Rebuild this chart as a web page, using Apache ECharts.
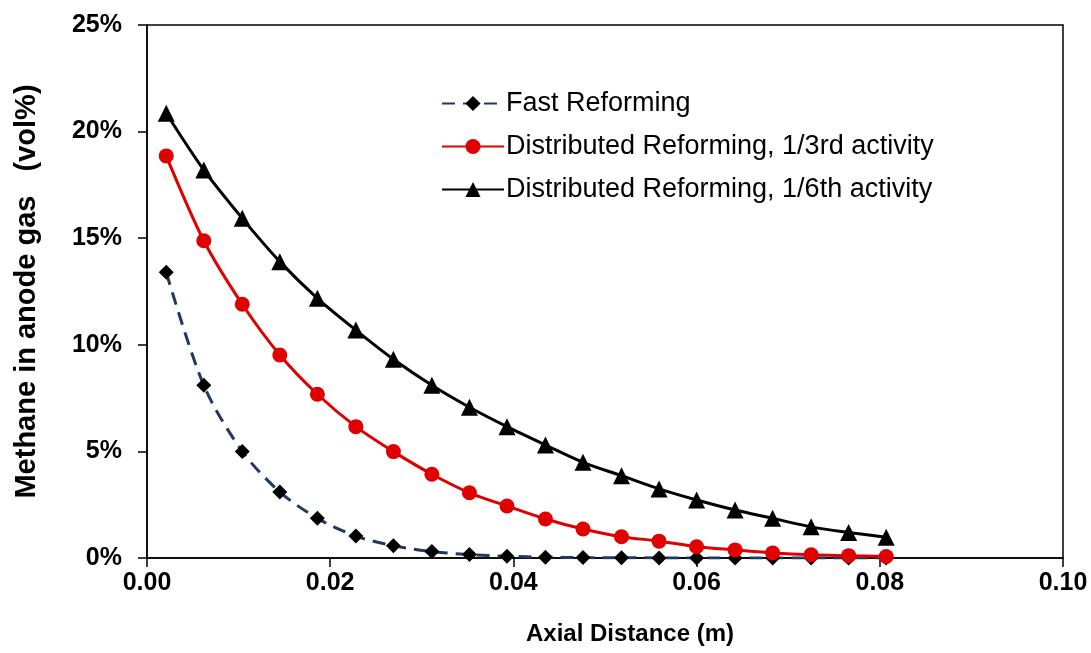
<!DOCTYPE html>
<html><head><meta charset="utf-8">
<script src="https://cdn.jsdelivr.net/npm/echarts@6/dist/echarts.min.js"></script>
<style>html,body{margin:0;padding:0;background:#fff}#c{width:1091px;height:653px}</style>
</head><body><div id="c"></div>
<script>
const axialDistance = [0.0021,0.0062,0.0104,0.0145,0.0186,0.0228,0.0269,0.0311,0.0352,0.0393,0.0435,0.0476,0.0518,0.0559,0.0600,0.0642,0.0683,0.0725,0.0766,0.0807];
const fastReforming = [13.4,8.1,5.0,3.1,1.86,1.03,0.58,0.30,0.16,0.08,0.04,0.02,0.01,0.005,0.003,0.002,0.001,0.001,0.0005,0.0003];
const dist13 = [18.86,14.88,11.9,9.52,7.68,6.16,4.99,3.93,3.06,2.44,1.83,1.36,1.0,0.79,0.53,0.38,0.24,0.15,0.11,0.07];
const dist16 = [20.86,18.2,15.93,13.9,12.18,10.69,9.32,8.1,7.07,6.16,5.3,4.49,3.86,3.24,2.72,2.25,1.86,1.46,1.2,0.97];
const seriesNames = ['Fast Reforming','Distributed Reforming, 1/3rd activity','Distributed Reforming, 1/6th activity'];

const pair = (ys) => axialDistance.map((x,i)=>[x, ys[i]]);
const chart = echarts.init(document.getElementById('c'));
const font = 'Liberation Sans, Arial, sans-serif';
chart.setOption({
  animation:false,
  grid:{left:147,right:28,top:25,bottom:95,show:true,borderColor:'#000',borderWidth:1.5},
  legend:{
    orient:'vertical', left:436, top:85, itemGap:16, itemWidth:62, itemHeight:19,
    textStyle:{fontFamily:font,fontSize:27,lineHeight:27,color:'#000',padding:[0,0,0,-3]},
    data:seriesNames
  },
  xAxis:{
    type:'value', min:0, max:0.1, interval:0.02,
    name:'Axial Distance (m)', nameLocation:'middle', nameGap:64,
    nameTextStyle:{fontFamily:font,fontSize:24,fontWeight:'bold',color:'#000',padding:[0,0,0,50]},
    axisLine:{lineStyle:{color:'#000',width:1.5}},
    axisTick:{show:true,inside:false,length:9,lineStyle:{color:'#000',width:1.5}},
    axisLabel:{fontFamily:font,fontSize:25,fontWeight:'bold',color:'#000',margin:13,formatter:v=>v.toFixed(2)},
    splitLine:{show:false}
  },
  yAxis:{
    type:'value', min:0, max:25, interval:5,
    name:'Methane in anode gas   (vol%)', nameLocation:'middle', nameGap:106, nameRotate:90,
    nameTextStyle:{fontFamily:font,fontSize:29,fontWeight:'bold',color:'#000'},
    axisLine:{lineStyle:{color:'#000',width:1.5}},
    axisTick:{show:true,inside:false,length:9,lineStyle:{color:'#000',width:1.5}},
    axisLabel:{fontFamily:font,fontSize:25,fontWeight:'bold',color:'#000',margin:25,formatter:v=>v+'%'},
    splitLine:{show:false}
  },
  series:[
    {name:seriesNames[0],type:'line',data:pair(fastReforming),smooth:0.3,
     symbol:'diamond',symbolSize:15,itemStyle:{color:'#000'},
     lineStyle:{color:'#1f3864',width:3,type:[13,8]}},
    {name:seriesNames[1],type:'line',data:pair(dist13),smooth:0.3,
     symbol:'circle',symbolSize:15,itemStyle:{color:'#e00000'},
     lineStyle:{color:'#e00000',width:3}},
    {name:seriesNames[2],type:'line',data:pair(dist16),smooth:0.3,
     symbol:'triangle',symbolSize:17,itemStyle:{color:'#000'},
     lineStyle:{color:'#000',width:3}}
  ]
});
</script></body></html>
